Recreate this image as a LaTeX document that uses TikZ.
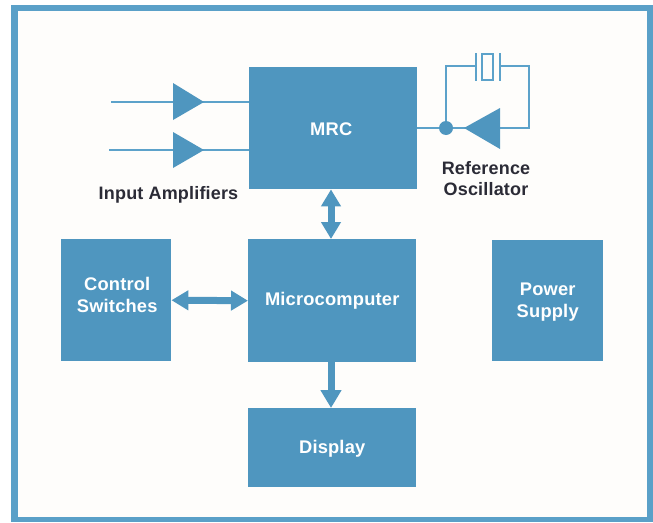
\documentclass[tikz,border=0pt]{standalone}
\usepackage{fontspec}
\setmainfont{Liberation Sans}
\newfontfamily\spaced[LetterSpace=1]{Liberation Sans}
\usetikzlibrary{arrows.meta}
\definecolor{hpblue}{HTML}{4F96BF}
\definecolor{hpframe}{HTML}{5AA0C8}
\definecolor{hpline}{HTML}{5CA2CA}
\definecolor{hpink}{HTML}{2B2B36}
\definecolor{hppaper}{HTML}{FEFDFB}
\tikzset{
  x=1pt,y=-1pt,
  block/.style={fill=hpblue,draw=none,inner sep=0pt,anchor=north west},
  blocktext/.style={text=white,font=\spaced\fontsize{18.3}{22}\selectfont\bfseries,align=center,inner sep=0pt},
  wire/.style={draw=hpline,line width=2pt},
  amp/.style={fill=hpblue,draw=none},
  bus/.style={draw=hpblue,line width=7pt},
  dbl/.style={bus,{Triangle[length=17pt,width=19pt]}-{Triangle[length=17pt,width=19pt]}},
  sgl/.style={bus,-{Triangle[length=18pt,width=20pt]}},
  caption/.style={text=hpink,font=\spaced\fontsize{18}{21}\selectfont\bfseries,align=center,inner sep=0pt}
}
\begin{document}
\begin{tikzpicture}
\useasboundingbox (0,0) rectangle (653,522);
\fill[white] (0,0) rectangle (653,522);
\fill[hpframe] (11,5) rectangle (653,522);
\fill[hppaper] (18,11) rectangle (647,517);
% blocks
\node[block,minimum width=168pt,minimum height=122pt,label={[blocktext,xshift=-2pt,yshift=-1pt]center:MRC}] (mrc) at (249,67) {};
\node[block,minimum width=168pt,minimum height=123pt,label={[blocktext,yshift=0pt]center:Microcomputer}] (micro) at (248,239) {};
\node[block,minimum width=110pt,minimum height=122pt,label={[blocktext,xshift=1pt,yshift=5pt]center:Control\\Switches}] (ctrl) at (61,239) {};
\node[block,minimum width=111pt,minimum height=121pt,label={[blocktext,yshift=-1pt]center:Power\\Supply}] (power) at (492,240) {};
\node[block,minimum width=168pt,minimum height=79pt,label={[blocktext,yshift=-1pt]center:Display}] (disp) at (248,408) {};
% buses
\draw[dbl] (micro.north -| 331,0) -- (mrc.south -| 331,0);
\draw[dbl] (ctrl.east) -- (micro.west);
\draw[sgl] (micro.south -| 331,0) -- (disp.north -| 331,0);
% input amplifiers
\coordinate (in1) at (111,102);
\coordinate (in2) at (109,150);
\draw[wire] (in1) -- (mrc.west |- in1);
\draw[wire] (in2) -- (mrc.west |- in2);
\fill[amp] (173,83) -- (204,102) -- (173,120) -- cycle;
\fill[amp] (173,132) -- (204,150) -- (173,168) -- cycle;
\node[caption] (inlab) at (168.5,195) {Input Amplifiers};
% oscillator
\coordinate (dot) at (446,128);
\coordinate (ampout) at (500,128);
\coordinate (rc) at (529,128);
\coordinate (xl) at (476,65.5);
\coordinate (xr) at (500,65.5);
\draw[wire] (mrc.east |- dot) -- (ampout) -- (rc) |- (xr);
\draw[wire] (dot) |- (xl);
\draw[wire] (476,53) -- (476,81);
\draw[wire] (500,53) -- (500,81);
\draw[wire] (482,54) rectangle (493,80);
\fill[amp] (dot) circle (7);
\fill[amp] (464,128) -- (500,108) -- (500,149) -- cycle;
\node[caption] (osclab) at (486,179) {Reference\\Oscillator};
\end{tikzpicture}
\end{document}
